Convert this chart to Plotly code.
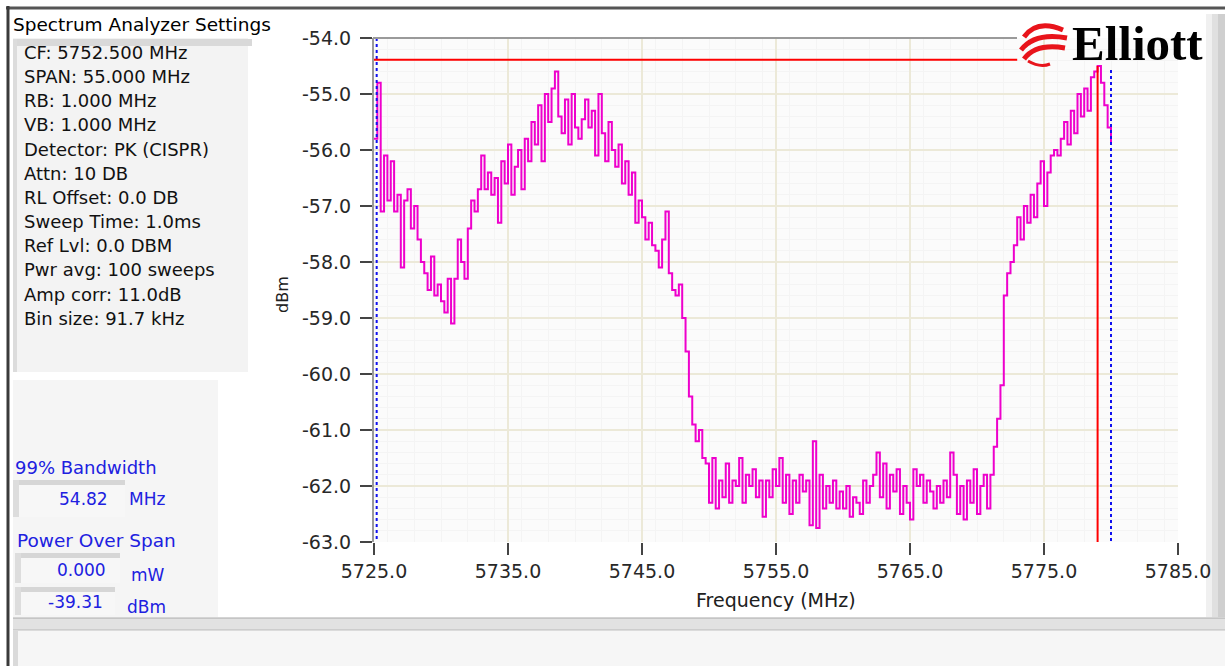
import plotly.graph_objects as go

inicio_mhz = 5725.0
paso_mhz = 0.25
nivel_dbm = [
    -55.8, -54.8, -57.1, -56.1,   -56.9, -56.2, -57.1, -56.8,   -58.1, -56.9, -56.7, -57.4,
    -57.0, -57.6, -58.0, -58.2,   -58.5, -57.9, -58.6, -58.4,   -58.7, -58.9, -58.3, -59.1,
    -58.3, -57.6, -58.0, -58.3,   -57.4, -56.9, -57.1, -56.7,   -56.1, -56.7, -56.4, -56.8,
    -56.5, -57.3, -56.2, -56.6,   -55.9, -56.8, -56.3, -56.0,   -56.7, -55.8, -56.2, -55.5,
    -55.9, -55.2, -56.2, -55.0,   -55.5, -54.9, -54.6, -55.4,   -55.7, -55.1, -55.9, -55.0,
    -55.6, -55.8, -55.45, -55.1,  -55.6, -55.3, -56.1, -55.0,   -55.7, -56.2, -55.5, -56.0,
    -56.3, -55.9, -56.6, -56.2,   -56.8, -56.4, -57.3, -56.9,   -57.2, -57.6, -57.3, -57.7,
    -57.8, -58.1, -57.6, -57.1,   -58.2, -58.5, -58.6, -58.4,   -59.0, -59.6, -60.4, -60.9,
    -61.2, -61.0, -61.5, -61.6,   -62.3, -61.5, -62.4, -61.9,   -62.2, -61.6, -62.3, -61.9,
    -62.0, -61.5, -62.3, -61.8,   -62.0, -61.7, -62.2, -61.9,   -62.55, -61.9, -62.2, -61.7,
    -62.0, -61.5, -62.3, -61.8,   -62.5, -61.9, -62.3, -61.8,   -62.1, -61.9, -62.7, -61.2,
    -62.75, -61.8, -62.4, -62.0,  -62.3, -61.9, -62.4, -62.1,   -62.4, -62.0, -62.55, -62.2,
    -62.3, -62.5, -61.9, -62.3,   -62.0, -61.8, -61.4, -62.2,   -61.6, -62.4, -61.8, -62.1,
    -61.7, -62.5, -62.0, -62.3,   -62.6, -61.7, -62.0, -61.8,   -62.3, -61.9, -62.1, -62.4,
    -62.0, -62.3, -61.9, -62.2,   -61.4, -61.8, -62.5, -62.0,   -62.6, -61.9, -62.3, -61.7,
    -62.5, -62.0, -61.8, -62.4,   -61.8, -61.3, -60.8, -60.2,   -58.6, -58.2, -58.0, -57.7,
    -57.2, -57.6, -57.0, -57.3,   -56.8, -57.2, -56.6, -56.2,   -57.0, -56.4, -56.1, -56.0,
    -56.1, -55.8, -55.5, -55.9,   -55.3, -55.7, -55.0, -55.4,   -54.9, -55.3, -54.7, -54.6,
    -54.5, -54.8, -55.2, -55.6,   -55.9,
]
frecuencia_mhz = [inicio_mhz + paso_mhz * i for i in range(len(nivel_dbm))]

marcador_freq = 5779.0
marcador_nivel = -54.39
bw_izq = 5725.2
bw_der = 5780.0

ticks_x = [5725.0, 5735.0, 5745.0, 5755.0, 5765.0, 5775.0, 5785.0]
ticks_y = [-54.0, -55.0, -56.0, -57.0, -58.0, -59.0, -60.0, -61.0, -62.0, -63.0]

ajustes = ['CF: 5752.500 MHz', 'SPAN: 55.000 MHz', 'RB: 1.000 MHz', 'VB: 1.000 MHz',
           'Detector: PK (CISPR)', 'Attn: 10 DB', 'RL Offset: 0.0 DB', 'Sweep Time: 1.0ms',
           'Ref Lvl: 0.0 DBM', 'Pwr avg: 100 sweeps', 'Amp corr: 11.0dB', 'Bin size: 91.7 kHz']
ancho_banda = '54.82'
potencia_mw = '0.000'
potencia_dbm = '-39.31'

# tamaño de la pagina y del area del grafico
W, H = 1225, 666
L, R, T, B = 374, 47, 38, 124
PW = W - L - R
PH = H - T - B


def px(x):
    return (x - L) / PW


def py(y):
    return (H - B - y) / PH


def caja(x0, y0, x1, y1, color, capa='above'):
    return dict(type='rect', xref='paper', yref='paper', x0=px(x0), x1=px(x1),
                y0=py(y1), y1=py(y0), fillcolor=color, line_width=0, layer=capa)


def linea(x0, y0, x1, y1, color, ancho):
    return dict(type='line', xref='paper', yref='paper', x0=px(x0), x1=px(x1),
                y0=py(y0), y1=py(y1), line=dict(color=color, width=ancho), layer='above')


def curva(p0, p1, p2, color='#E8141B', ancho=5):
    camino = 'M {},{} Q {},{} {},{}'.format(px(p0[0]), py(p0[1]), px(p1[0]), py(p1[1]),
                                             px(p2[0]), py(p2[1]))
    return dict(type='path', xref='paper', yref='paper', path=camino,
                line=dict(color=color, width=ancho), layer='above')


def texto(x, y, t, size=17, color='#111111', anchor='left', font='DejaVu Sans', angulo=0):
    return dict(x=px(x), y=py(y), xref='paper', yref='paper', text=t, showarrow=False,
                xanchor=anchor, yanchor='middle', textangle=angulo,
                font=dict(family=font, size=size, color=color))


fig = go.Figure()

# traza del espectro
fig.add_trace(go.Scatter(x=frecuencia_mhz, y=nivel_dbm, mode='lines',
                         line=dict(color='#EE00CC', width=2, shape='hv')))
# lineas del 99% de ancho de banda
fig.add_trace(go.Scatter(x=[bw_izq, bw_izq], y=[-54.0, -63.0], mode='lines',
                         line=dict(color='#1010F0', width=2, dash='dot')))
fig.add_trace(go.Scatter(x=[bw_der, bw_der], y=[-54.57, -63.0], mode='lines',
                         line=dict(color='#1010F0', width=2, dash='dot')))
# marcador de pico
fig.add_trace(go.Scatter(x=[inicio_mhz, 5773.0], y=[marcador_nivel, marcador_nivel], mode='lines',
                         line=dict(color='#FF0000', width=2)))
fig.add_trace(go.Scatter(x=[marcador_freq, marcador_freq], y=[-54.5, -63.0], mode='lines',
                         line=dict(color='#FF0000', width=2)))

formas = [
    # marco exterior
    linea(6, 8, 1225, 8, '#555555', 3),
    linea(8, 6, 8, 666, '#3A3A3A', 3),
    caja(1206, 14, 1212, 617, '#F0F0F0', 'below'),
    caja(1212, 14, 1218, 617, '#E0E0E0', 'below'),
    caja(1218, 14, 1225, 617, '#CFCFCF', 'below'),
    # caja de ajustes
    caja(13, 38, 248, 372, '#F3F3F3'),
    caja(13, 39, 252, 46, '#D9D9D9'),
    caja(13, 39, 17, 372, '#DCDCDC'),
    # panel inferior izquierdo
    caja(13, 380, 218, 617, '#F5F5F5'),
    caja(13, 480, 125, 517, '#F7F7F7'),
    caja(13, 480, 125, 485, '#D6D6D6'),
    caja(13, 480, 19, 517, '#DDDDDD'),
    caja(15, 553, 120, 583, '#F7F7F7'),
    caja(15, 553, 120, 558, '#D6D6D6'),
    caja(15, 553, 21, 583, '#DDDDDD'),
    caja(15, 587, 115, 615, '#F7F7F7'),
    caja(15, 587, 115, 592, '#D6D6D6'),
    caja(15, 587, 21, 615, '#DDDDDD'),
    # barra inferior
    caja(13, 618, 1225, 630, '#E2E2E2'),
    linea(13, 618, 1225, 618, '#A8A8A8', 1),
    linea(13, 630, 1225, 630, '#B8B8B8', 1),
    caja(13, 631, 1225, 666, '#F6F6F6'),
    caja(13, 631, 18, 666, '#DADADA'),
    # borde superior del grafico
    linea(373, 38, 1017, 38, '#9A9A9A', 2),
    # logo
    curva((1024, 37), (1037, 19), (1063, 30)),
    curva((1021, 50), (1035, 32), (1067, 38)),
    curva((1024, 59), (1036, 43), (1065, 48)),
    curva((1028, 61), (1040, 68), (1050, 64), ancho=3),
]

notas = [
    texto(11, 24, 'Spectrum Analyzer Settings', size=18.5, color='#000000'),
    texto(1137, 44, '<b>Elliott</b>', size=49, color='#000000', anchor='center',
          font='Liberation Serif'),
    texto(282, 295, 'dBm', size=16, color='#202020', anchor='center', angulo=-90),
    texto(776, 600, 'Frequency (MHz)', size=19, color='#202020', anchor='center'),
    texto(13, 467, '99% Bandwidth', size=18, color='#2020E0'),
    texto(110, 499, ancho_banda, size=17, color='#2020E0', anchor='right'),
    texto(127, 499, 'MHz', size=17, color='#2020E0'),
    texto(15, 540, 'Power Over Span', size=18.5, color='#2020E0'),
    texto(108, 570, potencia_mw, size=17, color='#2020E0', anchor='right'),
    texto(129, 575, 'mW', size=17, color='#2020E0'),
    texto(105, 602, potencia_dbm, size=17, color='#2020E0', anchor='right'),
    texto(125, 607, 'dBm', size=17, color='#2020E0'),
]
for i, a in enumerate(ajustes):
    notas.append(texto(22, 52.3 + 24.18 * i, a, size=18))

fig.update_layout(
    width=W, height=H,
    margin=dict(l=L, r=R, t=T, b=B, pad=0),
    paper_bgcolor='#FFFFFF',
    plot_bgcolor='#FBFBFB',
    showlegend=False,
    shapes=formas,
    annotations=notas,
    font=dict(family='DejaVu Sans', color='#303030'),
)
fig.update_xaxes(range=[5725, 5785], tickvals=ticks_x, ticktext=['%.1f' % v for v in ticks_x],
                 showgrid=True, gridcolor='#ECE9D8', gridwidth=2, zeroline=False,
                 ticks='outside', ticklen=12, tickwidth=1.5, tickcolor='#444444',
                 tickfont=dict(size=19, color='#282828'), showline=False,
                 minor=dict(dtick=2, showgrid=True, gridcolor='#F4F4F4', gridwidth=1))
fig.update_yaxes(range=[-63, -54], tickvals=ticks_y, ticktext=['%.1f' % v for v in ticks_y],
                 showgrid=True, gridcolor='#ECE9D8', gridwidth=2, zeroline=False,
                 ticks='outside', ticklen=12, tickwidth=1.5, tickcolor='#444444',
                 tickfont=dict(size=19, color='#282828'), ticklabelstandoff=5,
                 showline=True, linecolor='#9A9A9A', linewidth=2,
                 minor=dict(dtick=0.2, showgrid=True, gridcolor='#F4F4F4', gridwidth=1))

# quitar el margen del body para que la figura quede en 0,0
fig.write_html("out.html", config={'displayModeBar': False},
               post_script="document.body.style.margin='0';")
